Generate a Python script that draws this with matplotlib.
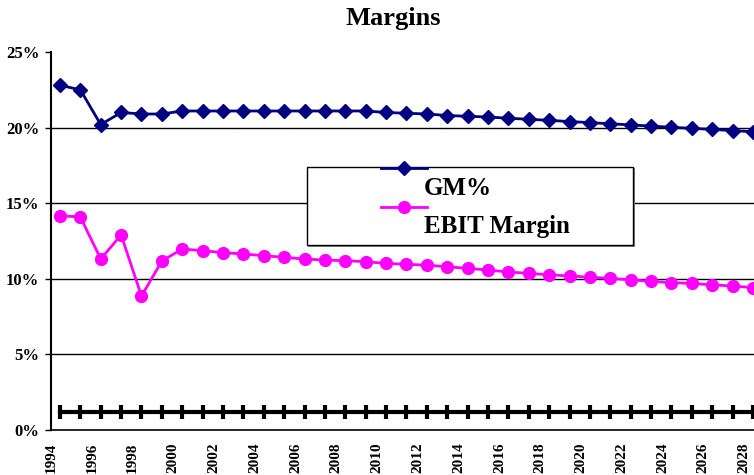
import matplotlib
matplotlib.use("Agg")
import matplotlib.pyplot as plt
from matplotlib.lines import Line2D
from matplotlib.patches import Rectangle

plt.rcParams['font.family'] = ['Liberation Serif', 'DejaVu Serif']
plt.rcParams['font.weight'] = 'bold'

# data (percent)
years = list(range(1994, 2029))
gm = [22.8, 22.5, 20.2, 21.0, 20.9, 20.9, 21.1, 21.1, 21.1, 21.1,
      21.1, 21.1, 21.1, 21.1, 21.1, 21.1, 21.0, 20.95, 20.9, 20.8,
      20.75, 20.7, 20.62, 20.55, 20.48, 20.4, 20.33, 20.25, 20.18, 20.1,
      20.02, 19.95, 19.88, 19.8, 19.73]
ebit = [14.17, 14.09, 11.31, 12.9, 8.86, 11.18, 11.97, 11.86, 11.73, 11.64,
        11.53, 11.42, 11.31, 11.24, 11.2, 11.13, 11.02, 10.96, 10.9, 10.8,
        10.69, 10.58, 10.45, 10.36, 10.26, 10.19, 10.1, 10.03, 9.93, 9.83,
        9.75, 9.69, 9.6, 9.52, 9.42]
base = [1.2] * len(years)  # unlabeled flat series near the bottom
tick_years = years[::2]
y_ticks = [0, 5, 10, 15, 20, 25]

W, H = 754, 475
fig = plt.figure(figsize=(W / 100, H / 100), dpi=100)
ax = fig.add_axes([51 / W, 45 / H, 1 - 51 / W, 378 / H])

ax.plot(years, base, color='black', lw=3, marker='|', ms=10, mew=3, zorder=3)
ax.plot(years, gm, color='#000080', lw=2, marker='D', ms=7, zorder=4)
ax.plot(years, ebit, color='#FF00FF', lw=2, marker='o', ms=8.5, zorder=4)

ax.set_xlim(1993.58, 2028.05)
ax.set_ylim(0, 25)
ax.set_yticks(y_ticks)
ax.set_yticklabels([f'{v}%' for v in y_ticks], fontsize=12, fontweight='bold')
# category labels sit a little left of their data points (Excel style)
ax.set_xticks([y - 0.44 for y in tick_years])
ax.set_xticklabels([str(y) for y in tick_years], rotation=90, fontsize=11,
                   fontweight='bold')

ax.tick_params(axis='x', length=0, pad=9)
ax.tick_params(axis='y', length=4.5, width=1, pad=4)
ax.yaxis.grid(True, color='black', lw=1)
ax.set_axisbelow(True)
ax.get_ygridlines()[-1].set_visible(False)
ax.get_ygridlines()[0].set_visible(False)
for s in ['top', 'right']:
    ax.spines[s].set_visible(False)
ax.spines['left'].set_linewidth(1.5)
ax.spines['bottom'].set_linewidth(1.2)

fig.text(393.5 / W, 1 - 18 / H, 'Margins', ha='center', va='center',
         fontsize=19, fontweight='bold')

# legend box drawn by hand: Excel puts the samples above the labels
tf = fig.transFigure
fig.add_artist(Rectangle((308 / W, 1 - 246.5 / H), 326.6 / W, 78.3 / H,
                         transform=tf, facecolor='#808080', edgecolor='none', zorder=5))
fig.add_artist(Rectangle((306.7 / W, 1 - 245 / H), 326.6 / W, 78.3 / H,
                         transform=tf, facecolor='white', edgecolor='black',
                         lw=1, zorder=6))
fig.add_artist(Line2D([380.7 / W, 427.3 / W], [1 - 167.7 / H] * 2, transform=tf,
                      color='#000080', lw=2, zorder=7))
fig.add_artist(Line2D([404 / W], [1 - 167.7 / H], transform=tf,
                      color='#000080', marker='D', ms=7, zorder=8))
fig.add_artist(Line2D([380.7 / W, 427.3 / W], [1 - 206.7 / H] * 2, transform=tf,
                      color='#FF00FF', lw=2, zorder=7))
fig.add_artist(Line2D([404 / W], [1 - 206.7 / H], transform=tf,
                      color='#FF00FF', marker='o', ms=8.5, zorder=8))
fig.text(424 / W, 1 - 188.3 / H, 'GM%', ha='left', va='center',
         fontsize=18, fontweight='bold', zorder=8)
fig.text(424 / W, 1 - 226.7 / H, 'EBIT Margin', ha='left', va='center',
         fontsize=18, fontweight='bold', zorder=8)

fig.savefig('out.png', dpi=100)
